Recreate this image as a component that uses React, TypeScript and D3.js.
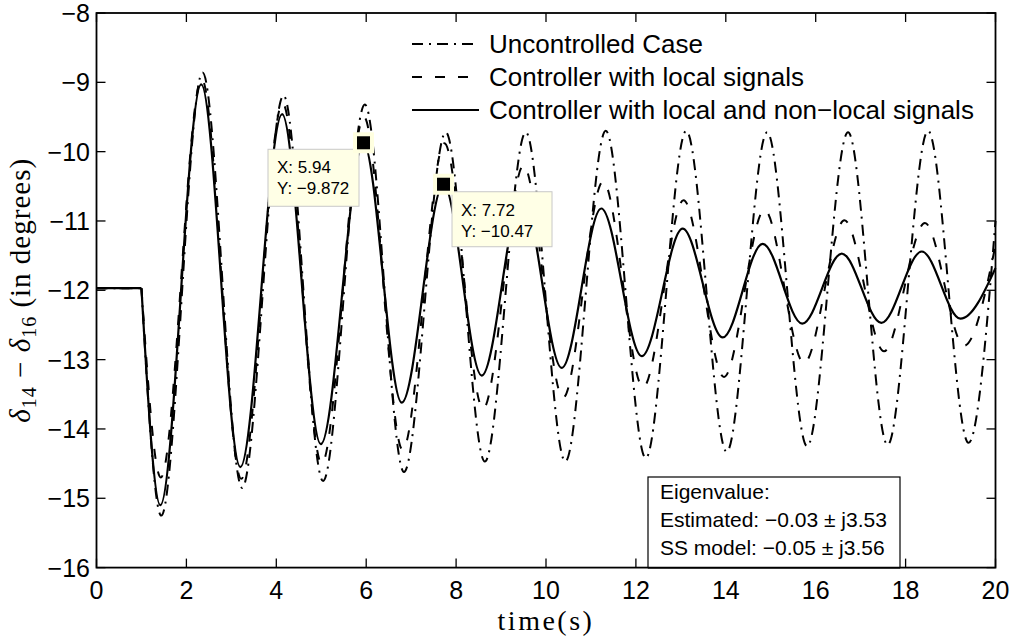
import React from 'react';
import * as d3 from 'd3';

const W = 1013;
const H = 639;

// Axis tick values
const xTickValues = [0, 2, 4, 6, 8, 10, 12, 14, 16, 18, 20];
const yTickValues = [-16, -15, -14, -13, -12, -11, -10, -9, -8];

// Uncontrolled case (dash-dot): time and value of flat part, then each extremum
const uncT = [0, 1.0, 1.44, 2.36, 3.24, 4.16, 5.04, 5.97, 6.84, 7.77, 8.64, 9.55, 10.43, 11.33, 12.22, 13.12, 14.02, 14.92, 15.81, 16.72, 17.6, 18.5, 19.4, 20];
const uncV = [-11.97, -11.97, -15.25, -8.86, -14.85, -9.19, -14.75, -9.32, -14.62, -9.72, -14.47, -9.72, -14.47, -9.7, -14.42, -9.7, -14.33, -9.72, -14.25, -9.72, -14.23, -9.7, -14.2, -11.0];

// Controller with local signals (dashed)
const locT = [0, 1.0, 1.43, 2.34, 3.22, 4.14, 5.01, 5.95, 6.81, 7.74, 8.6, 9.5, 10.38, 11.27, 12.16, 13.06, 13.96, 14.86, 15.74, 16.64, 17.52, 18.43, 19.3, 20];
const locV = [-11.97, -11.97, -14.7, -8.95, -14.72, -9.3, -14.5, -9.5, -14.3, -9.88, -13.71, -10.2, -13.55, -10.43, -13.4, -10.7, -13.25, -10.84, -13.05, -10.99, -12.88, -11.03, -12.8, -11.35];

// Controller with local and non-local signals (solid)
const nonT = [0, 1.0, 1.42, 2.33, 3.2, 4.13, 4.99, 5.94, 6.79, 7.72, 8.57, 9.47, 10.35, 11.23, 12.13, 13.04, 13.93, 14.82, 15.7, 16.58, 17.46, 18.36, 19.22, 20];
const nonV = [-11.97, -11.97, -15.1, -9.03, -14.55, -9.46, -14.22, -9.872, -13.62, -10.47, -13.23, -10.62, -13.12, -10.82, -12.95, -11.11, -12.68, -11.33, -12.48, -11.47, -12.47, -11.44, -12.41, -11.68];

const seriesNames = ['Uncontrolled Case', 'Controller with local signals', 'Controller with local and non\u2212local signals'];

// Data tips
const tipX = [5.94, 7.72];
const tipY = [-9.872, -10.47];
const tipLabelX = ['X: 5.94', 'X: 7.72'];
const tipLabelY = ['Y: \u22129.872', 'Y: \u221210.47'];

const eigenLines = ['Eigenvalue:', 'Estimated: \u22120.03 \u00b1 j3.53', 'SS model: \u22120.05 \u00b1 j3.56'];

const SANS = '"Liberation Sans", Arial, Helvetica, sans-serif';
const SERIF = '"Liberation Serif", "Times New Roman", serif';

const x = d3.scaleLinear().domain([0, 20]).range([96.5, 995.5]);
const y = d3.scaleLinear().domain([-16, -8]).range([567.6, 13]);

function seriesPath(T: number[], V: number[]): string {
  const pts: [number, number][] = T.map((t, i) => [x(t), y(V[i])]);
  const flat = d3.line()(pts.slice(0, 2)) || '';
  const osc = d3.line().curve(d3.curveMonotoneX)(pts.slice(1)) || '';
  return flat + osc;
}

const styles = [
  { dash: '11 6 2 6', width: 2 },
  { dash: '10 13', width: 2 },
  { dash: 'none', width: 2.2 },
];

export default function App() {
  const paths = [seriesPath(uncT, uncV), seriesPath(locT, locV), seriesPath(nonT, nonV)];
  const [x0, x1] = x.range();
  const [yb, yt] = y.range();
  const tickLen = 9;

  // data tip layouts relative to marker
  const tipBoxes = [
    { dx: -95.5, dy: 6.5, w: 91, h: 57 },
    { dx: 8.5, dy: 7.5, w: 100, h: 55 },
  ];

  return (
    <svg width={W} height={H} style={{ position: 'absolute', left: 0, top: 0, background: '#fff' }}>
      <rect x={0} y={0} width={W} height={H} fill="#fff" />
      {/* series */}
      {paths.map((d, i) => (
        <path key={i} d={d} fill="none" stroke="#000" strokeWidth={styles[i].width}
          strokeDasharray={styles[i].dash} strokeLinejoin="round" />
      ))}

      {/* axes box */}
      <rect x={x0} y={yt} width={x1 - x0} height={yb - yt} fill="none" stroke="#000" strokeWidth={1.8} />
      {xTickValues.map((t) => (
        <g key={'xt' + t}>
          <line x1={x(t)} x2={x(t)} y1={yb} y2={yb - tickLen} stroke="#000" strokeWidth={1.3} />
          <line x1={x(t)} x2={x(t)} y1={yt} y2={yt + tickLen} stroke="#000" strokeWidth={1.3} />
          <text x={x(t)} y={599} textAnchor="middle" fontFamily={SANS} fontSize={25}>{String(t)}</text>
        </g>
      ))}
      {yTickValues.map((v) => (
        <g key={'yt' + v}>
          <line x1={x0} x2={x0 + tickLen} y1={y(v)} y2={y(v)} stroke="#000" strokeWidth={1.3} />
          <line x1={x1} x2={x1 - tickLen} y1={y(v)} y2={y(v)} stroke="#000" strokeWidth={1.3} />
          <text x={90} y={y(v) + 9} textAnchor="end" fontFamily={SANS} fontSize={25}>{String(v).replace('-', '\u2212')}</text>
        </g>
      ))}

      {/* axis labels */}
      <text x={(x0 + x1) / 2} y={630} textAnchor="middle" fontFamily={SERIF} fontSize={28} letterSpacing={2.5}>time(s)</text>
      <text transform={`translate(30, ${(yt + yb) / 2}) rotate(-90)`} textAnchor="middle" fontFamily={SERIF} fontSize={29} letterSpacing={1}>
        <tspan fontStyle="italic">δ</tspan>
        <tspan fontSize={20} dy={6}>14</tspan>
        <tspan dy={-6}> − </tspan>
        <tspan fontStyle="italic">δ</tspan>
        <tspan fontSize={20} dy={6}>16</tspan>
        <tspan dy={-6}> (in degrees)</tspan>
      </text>

      {/* legend */}
      {seriesNames.map((n, i) => {
        const cy = 44 + i * 33;
        return (
          <g key={'lg' + i}>
            <line x1={412} x2={479} y1={cy} y2={cy} stroke="#000" strokeWidth={styles[i].width} strokeDasharray={styles[i].dash} />
            <text x={489} y={cy + 9} fontFamily={SANS} fontSize={26}>{n}</text>
          </g>
        );
      })}

      {/* data tips */}
      {tipX.map((t, i) => {
        const mx = x(t);
        const my = y(tipY[i]);
        const b = tipBoxes[i];
        const bx = mx + b.dx;
        const by = my + b.dy;
        return (
          <g key={'tip' + i}>
            <rect x={bx} y={by} width={b.w} height={b.h} fill="#FFFFE6" stroke="#C8C8C8" strokeWidth={1} />
            <text x={bx + 9} y={by + 24} fontFamily={SANS} fontSize={17}>{tipLabelX[i]}</text>
            <text x={bx + 9} y={by + 45} fontFamily={SANS} fontSize={17}>{tipLabelY[i]}</text>
            <rect x={mx - 10.5} y={my - 10.5} width={21} height={21} fill="#FFFFE0" />
            <rect x={mx - 6.5} y={my - 6.5} width={13} height={13} fill="#000" />
          </g>
        );
      })}

      {/* eigenvalue box */}
      <rect x={648} y={477} width={252} height={yb - 477} fill="#fff" stroke="#000" strokeWidth={1.2} />
      {eigenLines.map((s, i) => (
        <text key={'eg' + i} x={660} y={499 + i * 28} fontFamily={SANS} fontSize={21}>{s}</text>
      ))}
      <line x1={648} x2={900} y1={yb} y2={yb} stroke="#000" strokeWidth={1.8} />
    </svg>
  );
}
